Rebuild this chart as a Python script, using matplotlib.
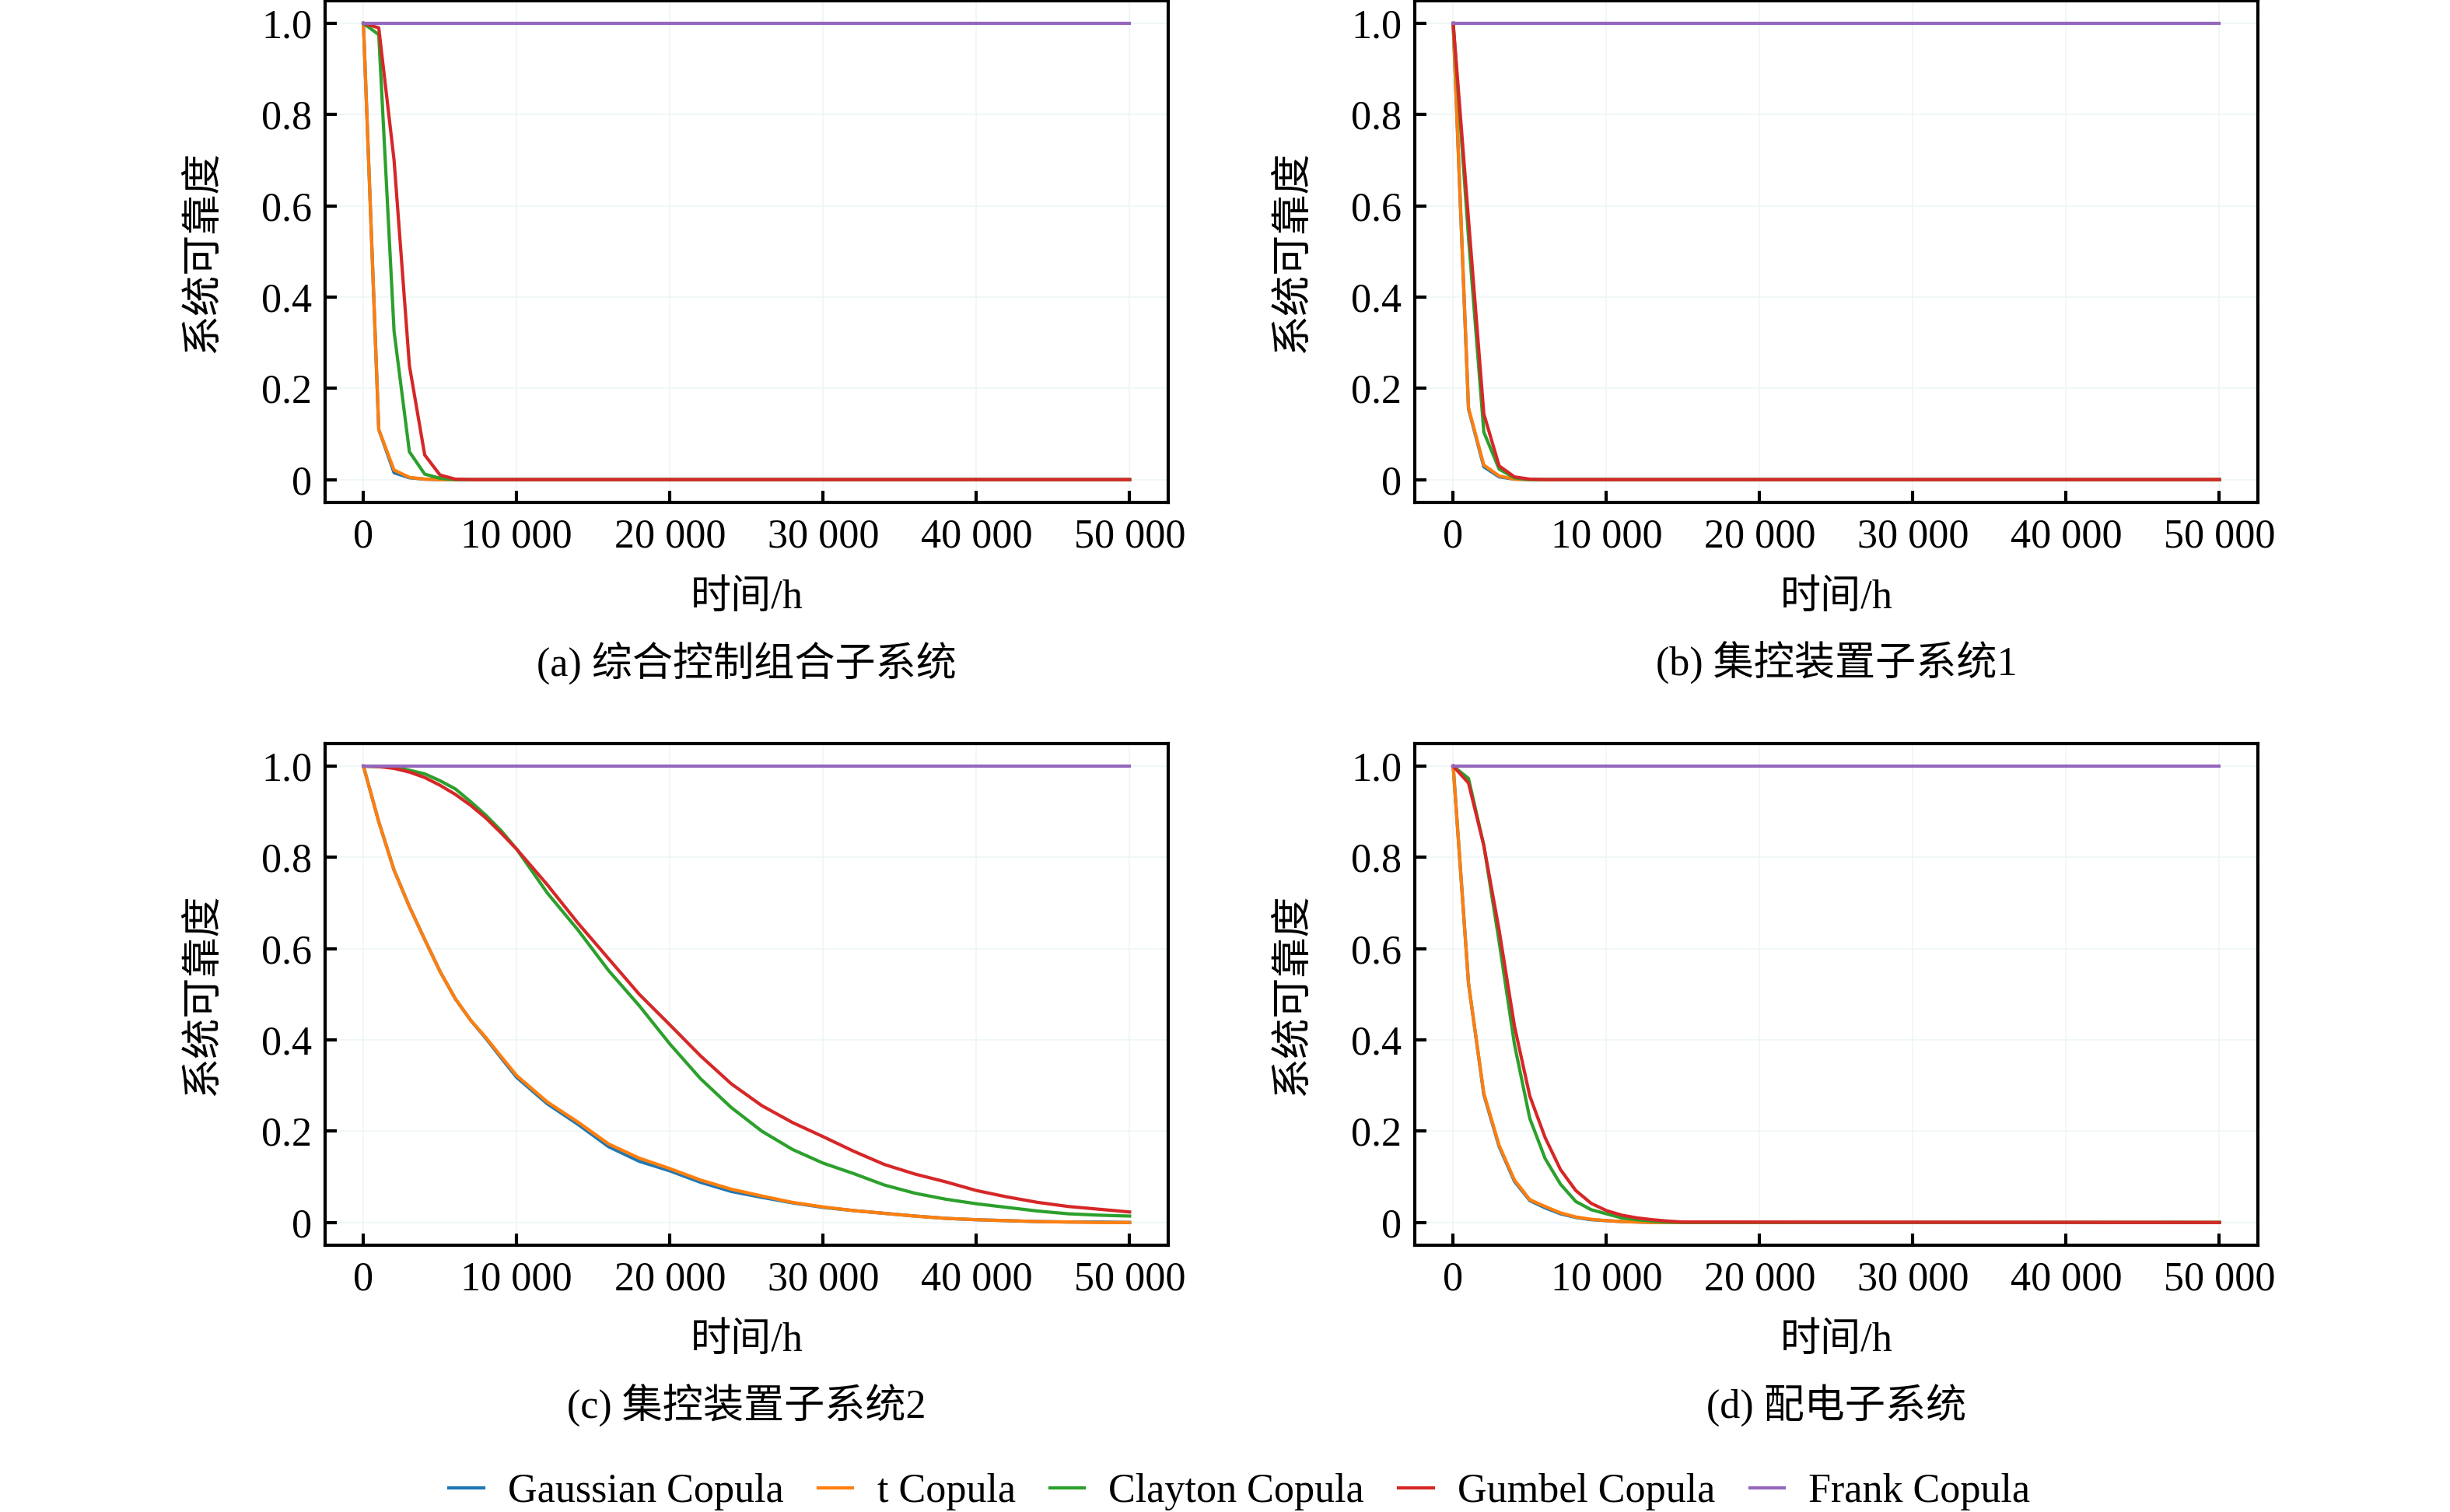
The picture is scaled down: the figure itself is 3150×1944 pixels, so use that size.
import matplotlib
matplotlib.use("Agg")
import matplotlib.pyplot as plt
from matplotlib.ticker import FuncFormatter

plt.rcParams.update({
    "font.family": ["Liberation Serif", "Noto Sans CJK SC", "DejaVu Sans"],
    "font.size": 12.5,
    "axes.linewidth": 1.0,
})

SERIES = ["Gaussian Copula", "t Copula", "Clayton Copula", "Gumbel Copula", "Frank Copula"]
COLORS = ["#1f77b4", "#ff7f0e", "#2ca02c", "#d62728", "#9467bd"]
CAPTIONS = ["(a) 综合控制组合子系统", "(b) 集控装置子系统1",
            "(c) 集控装置子系统2", "(d) 配电子系统"]

# (a) 综合控制组合子系统
T_A = [0, 1000, 2000, 3000, 4000, 5000, 6000, 7000, 8000, 50000]
A_GAUSS = [1.0, 0.11, 0.015, 0.004, 0.001, 0.0, 0.0, 0.0, 0.0, 0.0]
A_T = [1.0, 0.11, 0.021, 0.005, 0.001, 0.0, 0.0, 0.0, 0.0, 0.0]
A_CLAYTON = [1.0, 0.975, 0.325, 0.061, 0.012, 0.003, 0.0, 0.0, 0.0, 0.0]
A_GUMBEL = [1.0, 0.99, 0.70, 0.25, 0.054, 0.01, 0.001, 0.0, 0.0, 0.0]
A_FRANK = [1.0, 1.0, 1.0, 1.0, 1.0, 1.0, 1.0, 1.0, 1.0, 1.0]

# (b) 集控装置子系统1
T_B = [0, 1000, 2000, 3000, 4000, 5000, 6000, 50000]
B_GAUSS = [1.0, 0.155, 0.028, 0.006, 0.001, 0.0, 0.0, 0.0]
B_T = [1.0, 0.157, 0.032, 0.008, 0.001, 0.0, 0.0, 0.0]
B_CLAYTON = [1.0, 0.53, 0.104, 0.023, 0.004, 0.0, 0.0, 0.0]
B_GUMBEL = [1.0, 0.57, 0.144, 0.030, 0.006, 0.001, 0.0, 0.0]
B_FRANK = [1.0, 1.0, 1.0, 1.0, 1.0, 1.0, 1.0, 1.0]

# (c) 集控装置子系统2
T_C = [0, 1000, 2000, 3000, 4000, 5000, 6000, 7000, 8000, 9000, 10000,
       12000, 14000, 16000, 18000, 20000,
       22000, 24000, 26000, 28000, 30000, 32000, 34000, 36000, 38000, 40000,
       42000, 44000, 46000, 48000, 50000]
C_GAUSS = [1.0, 0.878, 0.772, 0.692, 0.62, 0.55, 0.49, 0.443, 0.403, 0.36,
           0.318, 0.260, 0.215, 0.166, 0.134,
           0.113, 0.088, 0.068, 0.055, 0.043, 0.033, 0.026, 0.020, 0.014,
           0.009, 0.006, 0.004, 0.002, 0.001, 0.001, 0.0]
C_T = [1.0, 0.878, 0.772, 0.692, 0.62, 0.55, 0.49, 0.443, 0.405, 0.363,
       0.322, 0.264, 0.220, 0.172, 0.141,
       0.118, 0.093, 0.073, 0.058, 0.044, 0.034, 0.026, 0.020, 0.014,
       0.009, 0.006, 0.004, 0.002, 0.001, 0.0, 0.0]
C_CLAYTON = [1.0, 0.999, 0.998, 0.991, 0.983, 0.968, 0.950, 0.922, 0.892, 0.858,
             0.818, 0.722, 0.641, 0.552, 0.475,
             0.391, 0.315, 0.252, 0.200, 0.160, 0.130, 0.107, 0.082, 0.064,
             0.051, 0.041, 0.033, 0.025, 0.019, 0.016, 0.014]
C_GUMBEL = [1.0, 0.999, 0.995, 0.987, 0.975, 0.958, 0.938, 0.914, 0.886, 0.853,
            0.818, 0.740, 0.656, 0.578, 0.500,
            0.433, 0.365, 0.304, 0.256, 0.219, 0.188, 0.156, 0.127, 0.106,
            0.089, 0.070, 0.056, 0.044, 0.035, 0.029, 0.023]
C_FRANK = [1.0] * len(T_C)

# (d) 配电子系统
T_D = [0, 1000, 2000, 3000, 4000, 5000, 6000, 7000, 8000, 9000, 10000,
       11000, 12000, 13000, 14000, 15000, 50000]
D_GAUSS = [1.0, 0.524, 0.280, 0.166, 0.090, 0.048, 0.032, 0.019, 0.011,
           0.006, 0.004, 0.002, 0.001, 0.0, 0.0, 0.0, 0.0]
D_T = [1.0, 0.524, 0.283, 0.169, 0.093, 0.050, 0.035, 0.021, 0.012,
       0.007, 0.004, 0.002, 0.001, 0.0, 0.0, 0.0, 0.0]
D_CLAYTON = [1.0, 0.973, 0.826, 0.615, 0.39, 0.228, 0.14, 0.084, 0.046,
             0.028, 0.019, 0.010, 0.006, 0.003, 0.001, 0.0, 0.0]
D_GUMBEL = [1.0, 0.963, 0.826, 0.64, 0.43, 0.277, 0.186, 0.116, 0.070,
            0.042, 0.026, 0.016, 0.010, 0.006, 0.003, 0.001, 0.0]
D_FRANK = [1.0] * len(T_D)

PANELS = [
    (T_A, [A_GAUSS, A_T, A_CLAYTON, A_GUMBEL, A_FRANK]),
    (T_B, [B_GAUSS, B_T, B_CLAYTON, B_GUMBEL, B_FRANK]),
    (T_C, [C_GAUSS, C_T, C_CLAYTON, C_GUMBEL, C_FRANK]),
    (T_D, [D_GAUSS, D_T, D_CLAYTON, D_GUMBEL, D_FRANK]),
]

# axes rectangles in figure fractions
AX_W, AX_H = 0.344, 0.332
AX_POS = [(0.1327, 0.6677), (0.5775, 0.6677), (0.1327, 0.1764), (0.5775, 0.1764)]


def fmt_x(v, _):
    v = int(round(v))
    if v == 0:
        return "0"
    return f"{v:,}".replace(",", " ")


def fmt_y(v, _):
    if abs(v) < 1e-9:
        return "0"
    return f"{v:.1f}"


fig = plt.figure(figsize=(10.5, 6.48), dpi=300)
handles = []
for i, ((t, ys), (x0, y0)) in enumerate(zip(PANELS, AX_POS)):
    ax = fig.add_axes([x0, y0, AX_W, AX_H])
    for name, col, y in zip(SERIES, COLORS, ys):
        ln, = ax.plot(t, y, color=col, lw=1.0, label=name)
        if i == 0:
            handles.append(ln)
    ax.set_xlim(-2500, 52500)
    ax.set_ylim(-0.05, 1.05)
    ax.set_xticks([0, 10000, 20000, 30000, 40000, 50000])
    ax.set_yticks([0, 0.2, 0.4, 0.6, 0.8, 1.0])
    ax.xaxis.set_major_formatter(FuncFormatter(fmt_x))
    ax.yaxis.set_major_formatter(FuncFormatter(fmt_y))
    ax.tick_params(direction="in", length=3.5, width=1.0, labelsize=12.5,
                   top=False, right=False)
    ax.tick_params(axis="x", pad=5)
    ax.tick_params(axis="y", pad=4)
    ax.grid(True, color="#eef6f6", lw=0.4)
    ax.set_axisbelow(True)
    ax.text(0.5, -0.19, "时间/h", transform=ax.transAxes,
            ha="center", va="center", fontsize=12.5)
    ax.text(-0.145, 0.5, "系统可靠度", transform=ax.transAxes, rotation=90,
            ha="center", va="center", fontsize=12.5)
    ax.text(0.5, -0.32, CAPTIONS[i], transform=ax.transAxes,
            ha="center", va="center", fontsize=12.5)

fig.legend(handles=handles, loc="center", bbox_to_anchor=(0.506, 0.0135),
           ncol=5, frameon=False, fontsize=12.5, handlelength=0.85,
           handletextpad=0.6, columnspacing=0.85)

fig.savefig("out.png", dpi=300)
